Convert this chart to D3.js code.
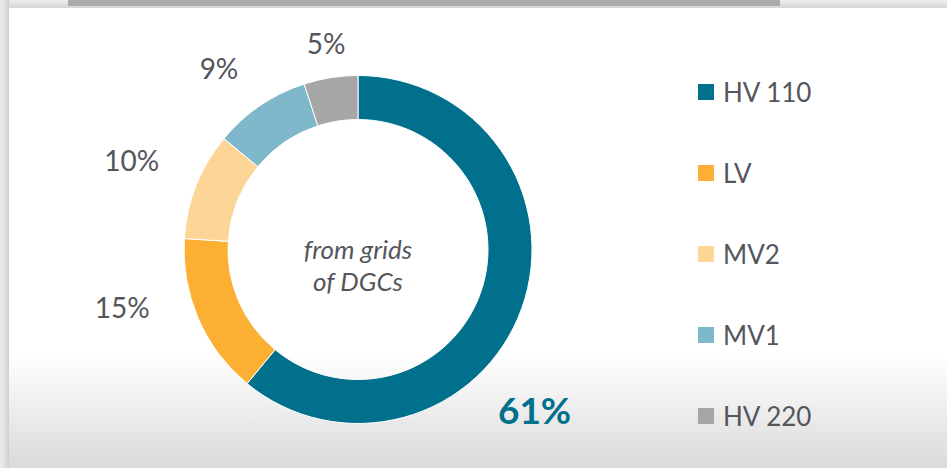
<!DOCTYPE html>
<html>
<head>
<meta charset="utf-8">
<script src="https://cdn.jsdelivr.net/npm/d3@7"></script>
<style>
  html, body { margin: 0; padding: 0; background: #fff; }
  svg { display: block; }
  text { font-family: Lato, "Open Sans", sans-serif; }
</style>
</head>
<body>
<svg id="chart" width="947" height="468"></svg>
<script>
// data
var categories = ["HV 110", "LV", "MV2", "MV1", "HV 220"];
var shares = [61, 15, 10, 9, 5];
var shareLabels = ["61%", "15%", "10%", "9%", "5%"];
var colours = ["#00708c", "#fbb034", "#fdd597", "#7fb8cb", "#a6a6a6"];
var centreText = ["from grids", "of DGCs"];

// label nudges (the labels were dragged about in the original)
var nudge = [[-21, 89], [-43, -26], [-31, -12], [-21, -8], [1, 1]];

var W = 947, H = 468;
var cx = 358, cy = 249.5;
var rOut = 174, rIn = 130;

var svg = d3.select("#chart");
var defs = svg.append("defs");

// card background + shadows
var bg = defs.append("linearGradient").attr("id", "bottomShade")
    .attr("x1", 0).attr("y1", 0).attr("x2", 0).attr("y2", 1);
bg.append("stop").attr("offset", "0").attr("stop-color", "#ffffff");
bg.append("stop").attr("offset", "0.76").attr("stop-color", "#ffffff");
bg.append("stop").attr("offset", "1").attr("stop-color", "#dadada");

var side = defs.append("linearGradient").attr("id", "sideShade")
    .attr("x1", 0).attr("y1", 0).attr("x2", 1).attr("y2", 0);
side.append("stop").attr("offset", "0").attr("stop-color", "#ececec");
side.append("stop").attr("offset", "0.6").attr("stop-color", "#e0e0e0");
side.append("stop").attr("offset", "1").attr("stop-color", "#cfcfcf");

var topGrad = defs.append("linearGradient").attr("id", "topShade")
    .attr("x1", 0).attr("y1", 0).attr("x2", 0).attr("y2", 1);
topGrad.append("stop").attr("offset", "0").attr("stop-color", "#eeeeee");
topGrad.append("stop").attr("offset", "1").attr("stop-color", "#d6d6d6");

svg.append("rect").attr("x", 0).attr("y", 0).attr("width", W).attr("height", H)
    .attr("fill", "url(#bottomShade)");
svg.append("rect").attr("x", 0).attr("y", 0).attr("width", W).attr("height", 8)
    .attr("fill", "url(#topShade)");
svg.append("rect").attr("x", 0).attr("y", 0).attr("width", 9).attr("height", H)
    .attr("fill", "url(#sideShade)");
svg.append("rect").attr("x", 68).attr("y", 0).attr("width", 712).attr("height", 6)
    .attr("fill", "#ababab");

// donut
var pie = d3.pie().sort(null).value(function(d){ return d; });
var arcs = pie(shares);
var arc = d3.arc().innerRadius(rIn).outerRadius(rOut);
var labelArc = d3.arc().innerRadius(210).outerRadius(210);

var g = svg.append("g").attr("transform", "translate(" + cx + "," + cy + ")");

g.selectAll("path.slice")
    .data(arcs)
    .enter().append("path")
    .attr("class", "slice")
    .attr("d", arc)
    .attr("fill", function(d, i){ return colours[i]; })
    .attr("stroke", "#fff")
    .attr("stroke-width", 1);

g.selectAll("text.pct")
    .data(arcs)
    .enter().append("text")
    .attr("class", "pct")
    .attr("x", function(d, i){ return labelArc.centroid(d)[0] + nudge[i][0]; })
    .attr("y", function(d, i){ return labelArc.centroid(d)[1] + nudge[i][1]; })
    .attr("text-anchor", "middle")
    .attr("dominant-baseline", "central")
    .attr("font-size", function(d, i){ return i == 0 ? 37 : 28; })
    .attr("font-weight", function(d, i){ return i == 0 ? "bold" : "normal"; })
    .attr("fill", function(d, i){ return i == 0 ? "#00708c" : "#55555c"; })
    .text(function(d, i){ return shareLabels[i]; });

// centre caption, one text with a tspan per line
var centre = g.append("text")
    .attr("class", "centre")
    .attr("text-anchor", "middle")
    .attr("font-size", 26)
    .attr("font-style", "italic")
    .attr("fill", "#55555c");
centre.selectAll("tspan")
    .data(centreText)
    .enter().append("tspan")
    .attr("x", 0)
    .attr("y", function(d, i){ return 9 + i * 32; })
    .text(function(d){ return d; });

// legend
var legendY = d3.scalePoint().domain(categories).range([92, 416]);
var leg = svg.append("g").attr("class", "legend");
var item = leg.selectAll("g")
    .data(categories)
    .enter().append("g")
    .attr("transform", function(d){ return "translate(698," + legendY(d) + ")"; });
item.append("rect")
    .attr("x", 0).attr("y", -8)
    .attr("width", 16).attr("height", 16)
    .attr("fill", function(d, i){ return colours[i]; });
item.append("text")
    .attr("x", 25).attr("y", 0)
    .attr("dominant-baseline", "central")
    .attr("font-size", 26)
    .attr("fill", "#55555c")
    .text(function(d){ return d; });
</script>
</body>
</html>
